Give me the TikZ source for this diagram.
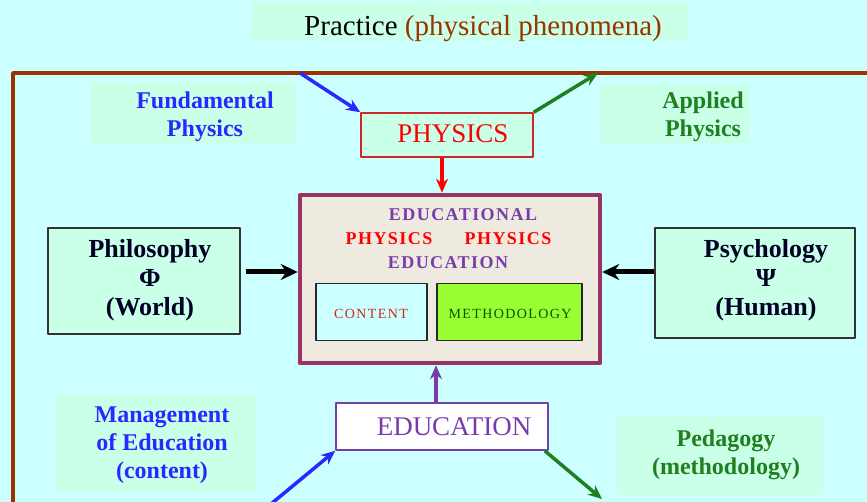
\documentclass[tikz,border=0pt]{standalone}
\usepackage{fontspec}
\setmainfont{Liberation Serif}
\usetikzlibrary{arrows.meta}
\definecolor{bgcyan}{RGB}{204,255,255}
\definecolor{mint}{RGB}{202,255,232}
\definecolor{rust}{RGB}{153,51,0}
\definecolor{fblue}{RGB}{40,40,255}
\definecolor{fgreen}{RGB}{30,128,30}
\definecolor{plum}{RGB}{153,51,102}
\definecolor{beige}{RGB}{238,234,224}
\definecolor{eduviolet}{RGB}{120,60,170}
\definecolor{methgreen}{RGB}{153,255,51}
\definecolor{boxred}{RGB}{204,40,40}
\tikzset{
	lbl/.style={fill=mint},
	lbltxt/.style={align=center, font=\fontsize{24}{28}\selectfont\bfseries},
	sidebox/.style={draw=black!80, line width=1.6pt, fill=mint},
	sidetxt/.style={align=center, font=\fontsize{26}{29}\selectfont\bfseries, text=black!85!blue},
	arr/.style={-{Stealth[length=14pt,width=12pt]}, line width=3.5pt},
	bigarr/.style={-{Stealth[length=17pt,width=16pt]}, line width=5pt},
	inbox/.style={draw=black!85, line width=1.4pt, minimum height=57pt},
	captxt/.style={font=\fontsize{18}{20}\selectfont\bfseries\addfontfeature{LetterSpace=8}},
	tinytxt/.style={font=\fontsize{14}{15}\selectfont\addfontfeature{LetterSpace=10}},
}
\begin{document}
\begin{tikzpicture}[x=1pt,y=-1pt,line join=round]
	\fill[bgcyan] (0,0) rectangle (867,502);
	\useasboundingbox (0,0) rectangle (867,502);
	\path
	(300,73) coordinate (FI)
	(598,73) coordinate (AO)
	(271,504) coordinate (MI)
	(602,499) coordinate (PO)
	;
	\draw[rust, line width=3.5pt] (872,73) -| (13,506);
	\node[fill=mint, minimum width=436pt, minimum height=39pt] (prac) at (470,22) {};
	\node[font=\fontsize{29}{32}\selectfont] (practxt) at (483,29)
		{Practice \textcolor{rust}{(physical phenomena)}};
	\node[lbl, minimum width=206pt, minimum height=61pt] (fund) at (193,112.5) {};
	\node[lbltxt, text=fblue] (fundtxt) at (205,117) {Fundamental\\Physics};
	\node[lbl, minimum width=150pt, minimum height=59pt] (appl) at (675,113.5) {};
	\node[lbltxt, text=fgreen] (appltxt) at (703,117) {Applied\\Physics};
	\node[draw=boxred, line width=1.5pt, fill=mint, minimum width=172pt, minimum height=44pt] (phys) at (447,135) {};
	\node[text=red, font=\fontsize{27}{30}\selectfont] (phystxt) at (453,134) {PHYSICS};
	\node[draw=plum, line width=4.5pt, fill=beige, minimum width=300pt,
		minimum height=168pt] (cen) at (450,279) {};
	\node[captxt, text=eduviolet] (edl) at (463,215) {EDUCATIONAL};
	\node[captxt, text=red] (ph1) at (389,239) {PHYSICS};
	\node[captxt, text=red] (ph2) at (508,239) {PHYSICS};
	\node[captxt, text=eduviolet] (edn) at (448,263) {EDUCATION};
	\node[inbox, fill=bgcyan, minimum width=111pt] (cont) at (371.5,312) {};
	\node[tinytxt, text={rgb,255:red,210;green,40;blue,20}] (conttxt) at (371,313.5) {CONTENT};
	\node[inbox, fill=methgreen, minimum width=145pt] (meth) at (509.5,312) {};
	\node[tinytxt, text=green!35!black] (methtxt) at (510,313.5) {METHODOLOGY};
	\node[sidebox, minimum width=192pt, minimum height=106pt] (philo) at (144,281) {};
	\node[sidetxt] (philotxt) at (150,280) {Philosophy\\Φ\\(World)};
	\node[sidebox, minimum width=200pt, minimum height=110pt] (psych) at (755,283) {};
	\node[sidetxt] (psychtxt) at (766,280) {Psychology\\Ψ\\(Human)};
	\node[draw=eduviolet, line width=1.6pt, fill=white, minimum width=212pt, minimum height=47pt] (edu) at (442,426.5) {};
	\node[text=eduviolet, font=\fontsize{27}{30}\selectfont] (edutxt) at (454,427) {EDUCATION};
	\node[lbl, minimum width=200pt, minimum height=97pt] (mgmt) at (156,443.5) {};
	\node[lbltxt, text=fblue] (mgmttxt) at (162,445) {Management\\of Education\\(content)};
	\node[lbl, minimum width=206pt, minimum height=79pt] (peda) at (719.5,455) {};
	\node[lbltxt, text=fgreen] (pedatxt) at (726,455) {Pedagogy\\(methodology)};
	\draw[arr, fblue] (FI) -- (phys.north west);
	\draw[arr, fgreen] (phys.north east) -- (AO);
	\draw[arr, red] ([xshift=-5pt]phys.south) -- ([xshift=-5pt]phys.south |- cen.north);
	\draw[bigarr, shorten <=5pt] ([yshift=9pt]philo.east) -- ([yshift=9pt]philo.east -| cen.west);
	\draw[bigarr] ([yshift=11pt]psych.west) -- ([yshift=11pt]psych.west -| cen.east);
	\draw[arr, eduviolet] ([xshift=-6pt]edu.north) -- ([xshift=-6pt]edu.north |- cen.south);
	\draw[arr, fblue] (MI) -- (edu.south west);
	\draw[arr, fgreen] ([xshift=-4pt]edu.south east) -- (PO);
\end{tikzpicture}
\end{document}
